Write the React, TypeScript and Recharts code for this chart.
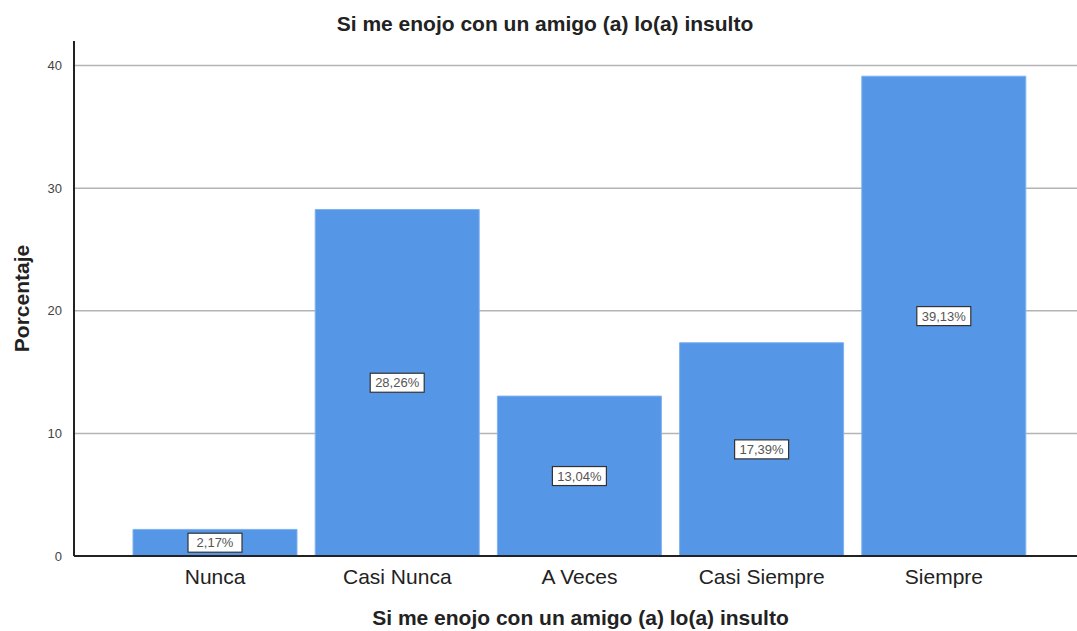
import React from 'react';
import { BarChart, Bar, XAxis, YAxis, CartesianGrid, LabelList, Label } from 'recharts';

const categories = ['Nunca', 'Casi Nunca', 'A Veces', 'Casi Siempre', 'Siempre'];
const percentages = [2.17, 28.26, 13.04, 17.39, 39.13];
const yTicks = [0, 10, 20, 30, 40];
const title = 'Si me enojo con un amigo (a) lo(a) insulto';
const yTitle = 'Porcentaje';

const data = categories.map((c, i) => ({ name: c, value: percentages[i] }));

const FONT = '"Liberation Sans", Arial, sans-serif';

const fmt = (v: number) => v.toFixed(2).replace('.', ',') + '%';

const BoxLabel = (props: any) => {
  const { x, y, width, height, value } = props;
  const cx = x + width / 2;
  const cy = y + height / 2;
  const w = 54;
  const h = 19;
  return (
    <g>
      <rect x={cx - w / 2} y={cy - h / 2} width={w} height={h} fill="#ffffff" stroke="#333333" strokeWidth={1.2} />
      <text x={cx} y={cy + 4.5} textAnchor="middle" fontSize={13} fontFamily={FONT} fill="#555555">
        {fmt(value)}
      </text>
    </g>
  );
};

export default function App() {
  return (
    <div style={{ position: 'absolute', left: 0, top: 0, width: 1077, height: 631, background: '#fff' }}>
      <div
        style={{
          position: 'absolute',
          left: 0,
          top: 11,
          width: 1090,
          textAlign: 'center',
          fontFamily: FONT,
          fontWeight: 'bold',
          fontSize: 21,
          lineHeight: '26px',
          color: '#222',
        }}
      >
        {title}
      </div>
      <BarChart
        width={1077}
        height={631}
        data={data}
        margin={{ top: 41, right: 0, left: 0, bottom: 0 }}
        barSize={164}
      >
        <CartesianGrid vertical={false} stroke="#b4b4b4" strokeWidth={1.5} horizontalValues={[10, 20, 30, 40]} />
        <XAxis
          dataKey="name"
          height={75}
          tickLine={false}
          axisLine={{ stroke: '#222', strokeWidth: 2 }}
          padding={{ left: 50, right: 42 }}
          tick={{ fontSize: 21, fontFamily: FONT, fill: '#222' }}
          tickMargin={7}
        >
          <Label value={title} position="insideBottom" offset={6} dx={5} style={{ fontSize: 21, fontWeight: 'bold', fontFamily: FONT, fill: '#222' }} />
        </XAxis>
        <YAxis
          width={74}
          domain={[0, 42]}
          ticks={yTicks}
          tickLine={false}
          axisLine={{ stroke: '#222', strokeWidth: 2 }}
          tick={{ fontSize: 13, fontFamily: FONT, fill: '#444' }}
          tickMargin={6}
        >
          <Label value={yTitle} angle={-90} position="insideLeft" offset={22} style={{ fontSize: 21, fontWeight: 'bold', fontFamily: FONT, fill: '#222', textAnchor: 'middle' }} />
        </YAxis>
        <Bar dataKey="value" fill="#5596e6" stroke="#7fb1ee" strokeWidth={1} isAnimationActive={false}>
          <LabelList dataKey="value" content={BoxLabel} />
        </Bar>
      </BarChart>
    </div>
  );
}
